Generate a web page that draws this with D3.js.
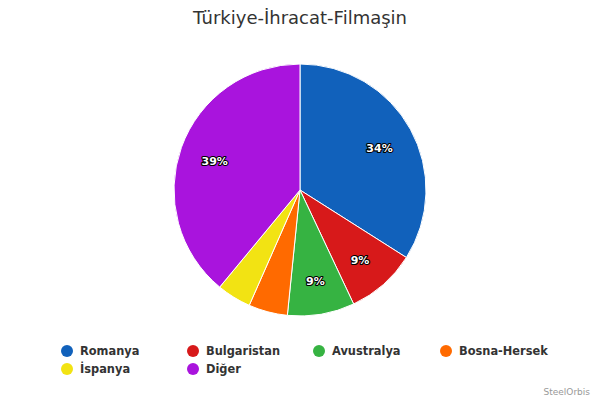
<!DOCTYPE html>
<html><head><meta charset="utf-8">
<script src="https://cdn.jsdelivr.net/npm/d3@7"></script>
<style>
html,body{margin:0;padding:0;background:#fff;}
svg{display:block;font-family:"DejaVu Sans",sans-serif;}
</style></head>
<body><svg id="c" width="600" height="400"></svg>
<script>
const categories = ["Romanya","Bulgaristan","Avustralya","Bosna-Hersek","İspanya","Diğer"];
const values = [34.0, 9.0, 8.6, 5.0, 4.4, 39.0];
const colors = ["#1161bb","#d7191a","#36b342","#ff6a00","#f2e313","#a914dd"];
const title = "Türkiye-İhracat-Filmaşin";
const credit = "SteelOrbis";

const svg = d3.select("#c");
const cx = 300, cy = 190, R = 126;

svg.append("text").attr("x",300).attr("y",24).attr("text-anchor","middle")
  .attr("font-size",18).attr("fill","#333").text(title);

const data = categories.map((c,i)=>({name:c,value:values[i],color:colors[i]}));
const total = d3.sum(values);
const pie = d3.pie().value(d=>d.value).sort(null);
const arcs = pie(data);
const arc = d3.arc().innerRadius(0).outerRadius(R);
const labelArc = d3.arc().innerRadius(R*0.72).outerRadius(R*0.72);

const g = svg.append("g").attr("transform",`translate(${cx},${cy})`);
g.selectAll("path").data(arcs).join("path")
  .attr("d",arc).attr("fill",d=>d.data.color)
  .attr("stroke","#fff").attr("stroke-width",1).attr("stroke-linejoin","round");

g.selectAll("text.lbl").data(arcs.filter(d=>d.data.value/total*100>=6)).join("text")
  .attr("class","lbl")
  .attr("transform",d=>`translate(${labelArc.centroid(d)})`)
  .attr("text-anchor","middle").attr("dy","0.5em")
  .attr("font-size",11).attr("font-weight","bold")
  .attr("fill","#fff").attr("stroke","#000").attr("stroke-width",2.2)
  .attr("paint-order","stroke").attr("stroke-linejoin","round")
  .text(d=>Math.round(d.data.value/total*100)+"%");

const legX = [67,193,319,446];
const legY = [351,369];
const leg = svg.append("g");
data.forEach((d,i)=>{
  const col = i%4, row = Math.floor(i/4);
  const gi = leg.append("g").attr("transform",`translate(${legX[col]},${legY[row]})`);
  gi.append("circle").attr("r",6).attr("fill",d.color);
  gi.append("text").attr("x",13).attr("dy","0.38em").attr("font-size",11.4)
    .attr("font-weight","bold").attr("fill","#333").text(d.name);
});

svg.append("text").attr("x",590).attr("y",395).attr("text-anchor","end")
  .attr("font-size",9).attr("fill","#999").text(credit);
</script></body></html>
